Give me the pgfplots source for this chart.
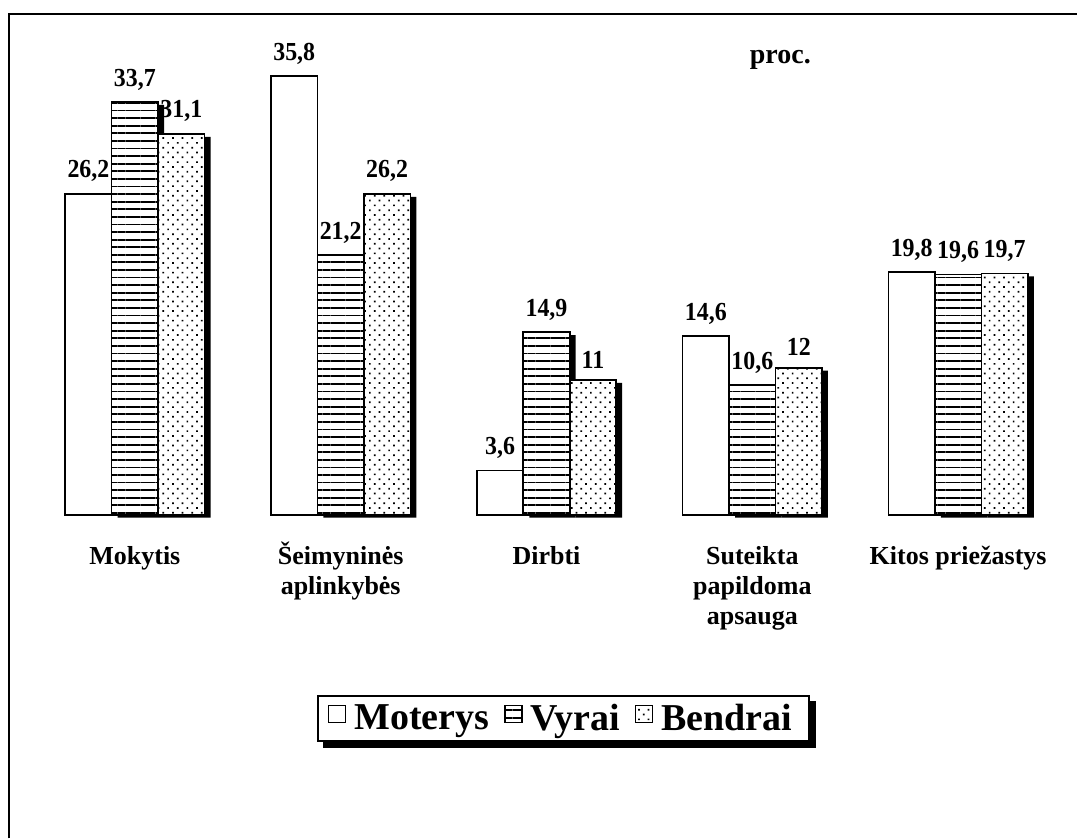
\documentclass[border=0pt]{standalone}
\usepackage{fontspec}
\setmainfont{Liberation Serif}
\newfontfamily\valfont{Liberation Serif}[FakeStretch=0.92]
\usepackage{pgfplots}
\usepackage{pgfplotstable}
\pgfplotsset{compat=1.18}
\usetikzlibrary{patterns.meta}
\pgfdeclarelayer{background}
\pgfsetlayers{background,main}

% x: 0..4 categories; m = Moterys, v = Vyrai, b = Bendrai
\pgfplotstableread{
x m v b
0 26.2 33.7 31.1
1 35.8 21.2 26.2
2 3.6 14.9 11
3 14.6 10.6 12
4 19.8 19.6 19.7
}\data

\newcommand{\st}{\rule{0pt}{13pt}}

\begin{document}
\begin{tikzpicture}
\begin{axis}[
  x=103pt, y=6.13pt,
  xmin=-0.65534, xmax=4.57767, ymin=-0.408, ymax=42.007,
  enlargelimits=false, clip=false,
  axis line style={draw=none},
  ytick=\empty,
  xtick={0,1,2,3,4},
  major tick length=0pt,
  xticklabels={{\st Mokytis},{\st Šeimyninės\\aplinkybės},{\st Dirbti},{\st Suteikta\\papildoma\\apsauga},{\st Kitos priežastys}},
  xticklabel style={font=\fontsize{13}{15}\selectfont\bfseries, align=center, anchor=north, inner sep=0pt, yshift=-9pt},
  ybar, bar width=23.25pt,
  /pgf/number format/use comma,
  /pgf/number format/assume math mode=true,
  every node near coord/.append style={font=\valfont\fontsize{13}{15}\selectfont\bfseries, inner sep=0pt, yshift=5.5pt},
  legend image code/.code={\draw[#1,line width=0.6pt] (0pt,-2pt) rectangle (8.5pt,6.5pt); \path (9pt,0);},
  legend style={name=leg, at={(axis cs:2.0825,-16.64)}, anchor=center, draw=black, line width=0.8pt, fill=white,
    font=\fontsize{19}{22}\selectfont\bfseries, legend columns=-1,
    inner xsep=5pt, inner ysep=3pt,
    nodes={inner xsep=3.5pt, inner ysep=1pt},
    /tikz/every even column/.append style={column sep=4pt}},
]
% shadows behind the second and third bars
\addplot[fill=black, draw=none, bar shift=3pt, yshift=-1.5pt, forget plot] table[x=x,y=v]{\data};
\addplot[fill=black, draw=none, bar shift=26.25pt, yshift=-1.5pt, forget plot] table[x=x,y=b]{\data};

\addplot[fill=white, draw=black, line width=0.8pt, bar shift=-23.25pt, nodes near coords] table[x=x,y=m]{\data};
\addplot[preaction={fill=white}, pattern={Lines[angle=0,distance=3.8pt,line width=0.9pt]}, draw=black, line width=0.8pt, bar shift=0pt, nodes near coords] table[x=x,y=v]{\data};
\addplot[preaction={fill=white}, pattern={Dots[angle=45,distance=3.4pt,radius=0.6pt]}, draw=black, line width=0.8pt, bar shift=23.25pt, nodes near coords] table[x=x,y=b]{\data};
\legend{Moterys, Vyrai, Bendrai}

\node[font=\fontsize{14}{16}\selectfont\bfseries] at (axis cs:3.136,37.1) {proc.};
\draw[line width=1pt] (axis cs:-0.61165,-26.43) |- (axis cs:4.57767,40.865);
\path (axis cs:-0.65534,-26.43) rectangle (axis cs:4.57767,42.007);
\end{axis}
\begin{pgfonlayer}{background}
\fill[black] ([shift={(3pt,-3pt)}]leg.south west) rectangle ([shift={(3pt,-3pt)}]leg.north east);
\end{pgfonlayer}
\end{tikzpicture}
\end{document}
